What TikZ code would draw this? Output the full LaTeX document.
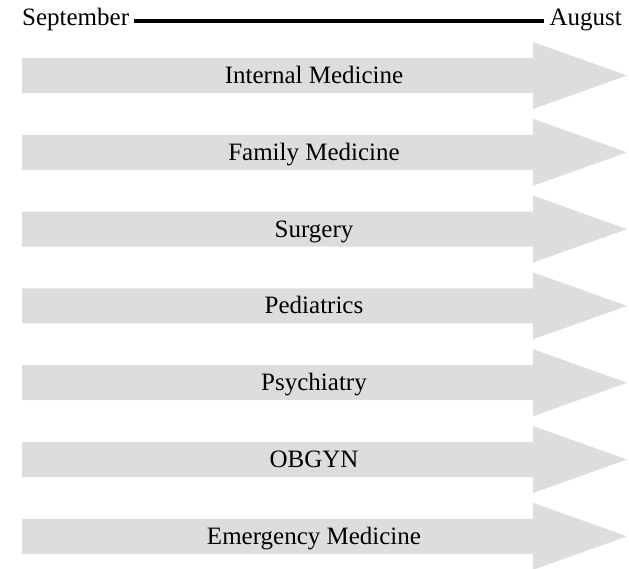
\documentclass[tikz,border=0pt]{standalone}
\usepackage{fontspec}
\setmainfont{Liberation Serif}
\definecolor{bandgray}{HTML}{DCDDDE}
\tikzset{
  band/.style={fill=bandgray},
  rotname/.style={font=\fontsize{25}{27}\selectfont, inner sep=3pt, anchor=base}
}

\begin{document}
\begin{tikzpicture}[x=1pt,y=-1pt]
\useasboundingbox (0,0) rectangle (629,569);

% year line
\node[rotname, anchor=base west, inner sep=5pt](Sep) at (17,26) {September};
\node[rotname, anchor=base east, inner sep=5pt](Aug) at (627,26) {August};
\draw[line width=3.5pt] ([yshift=5pt]Sep.base east) -- ([yshift=5pt]Aug.base west);

% one band per rotation
\fill[band] (22,58) -- ++(511,0) -- ++(0,-16) -- ++(94,33.5) -- ++(-94,33.5) -- ++(0,-16) -- ++(-511,0) -- cycle;
\fill[band] (22,134.8) -- ++(511,0) -- ++(0,-16) -- ++(94,33.5) -- ++(-94,33.5) -- ++(0,-16) -- ++(-511,0) -- cycle;
\fill[band] (22,211.6) -- ++(511,0) -- ++(0,-16) -- ++(94,33.5) -- ++(-94,33.5) -- ++(0,-16) -- ++(-511,0) -- cycle;
\fill[band] (22,288.4) -- ++(511,0) -- ++(0,-16) -- ++(94,33.5) -- ++(-94,33.5) -- ++(0,-16) -- ++(-511,0) -- cycle;
\fill[band] (22,365.2) -- ++(511,0) -- ++(0,-16) -- ++(94,33.5) -- ++(-94,33.5) -- ++(0,-16) -- ++(-511,0) -- cycle;
\fill[band] (22,442) -- ++(511,0) -- ++(0,-16) -- ++(94,33.5) -- ++(-94,33.5) -- ++(0,-16) -- ++(-511,0) -- cycle;
\fill[band] (22,518.8) -- ++(511,0) -- ++(0,-16) -- ++(94,33.5) -- ++(-94,33.5) -- ++(0,-16) -- ++(-511,0) -- cycle;

\node[rotname](IM) at (314,83.5) {Internal Medicine};
\node[rotname](FM) at (314,160.3) {Family Medicine};
\node[rotname](SU) at (314,237.1) {Surgery};
\node[rotname](PE) at (314,313.9) {Pediatrics};
\node[rotname](PS) at (314,390.7) {Psychiatry};
\node[rotname](OB) at (314,467.5) {OBGYN};
\node[rotname](EM) at (314,544.3) {Emergency Medicine};
\end{tikzpicture}
\end{document}
